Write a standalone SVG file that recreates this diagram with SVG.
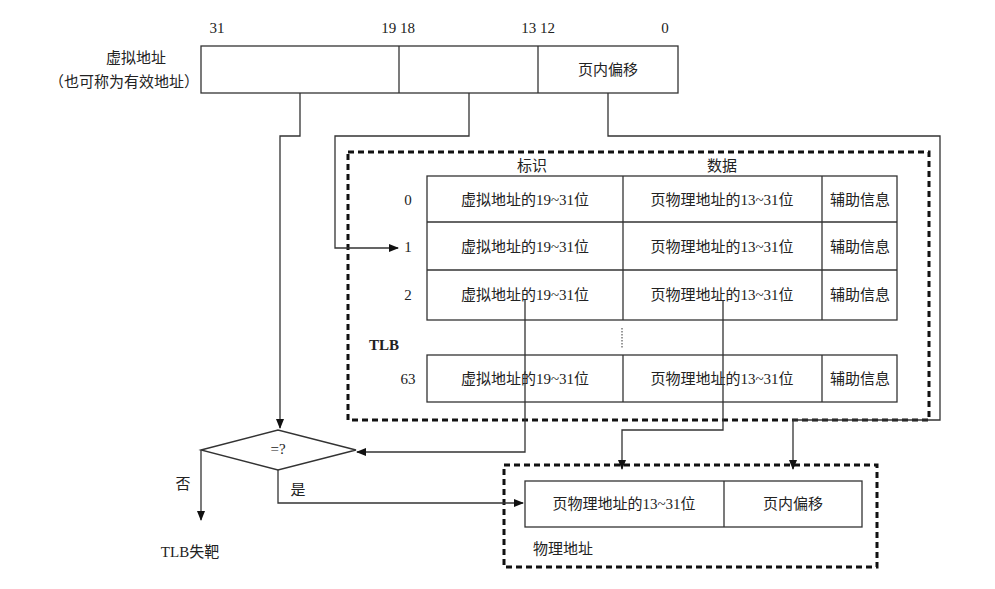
<svg xmlns="http://www.w3.org/2000/svg" width="995" height="589" viewBox="0 0 995 589">
<style>
text{font-family:"Liberation Serif","Noto Sans CJK SC",serif;font-size:15px;fill:#222;text-anchor:middle;dominant-baseline:central}
.b{fill:#fff;stroke:#333;stroke-width:1.3}
.d{fill:none;stroke:#111;stroke-width:3;stroke-dasharray:6,4}
.c{fill:none;stroke:#333;stroke-width:1.3}
</style>
<defs><marker id="a" markerWidth="10" markerHeight="8" refX="9" refY="4" orient="auto" markerUnits="userSpaceOnUse"><path d="M0,0L10,4L0,8z" fill="#111"/></marker></defs>
<rect width="995" height="589" fill="#fff"/>
<g id="va">
<text x="217" y="28">31</text><text x="398" y="28">19 18</text><text x="538" y="28">13 12</text><text x="665" y="28">0</text>
<text x="136" y="58">虚拟地址</text><text x="124" y="82">（也可称为有效地址）</text>
<rect class="b" x="201" y="46" width="477" height="47"/>
<line class="c" x1="399" y1="46" x2="399" y2="93"/><line class="c" x1="538" y1="46" x2="538" y2="93"/>
<text x="608" y="70">页内偏移</text>
</g>
<g id="tlb">
<rect class="d" x="348" y="152" width="581" height="268"/>
<text x="532" y="166">标识</text><text x="722" y="166">数据</text>
<text x="384" y="345" font-weight="bold">TLB</text>
<rect class="b" x="427" y="176" width="470" height="144"/>
<line class="c" x1="427" y1="222" x2="897" y2="222"/><line class="c" x1="427" y1="270" x2="897" y2="270"/>
<line class="c" x1="623" y1="176" x2="623" y2="320"/><line class="c" x1="822" y1="176" x2="822" y2="320"/>
<rect class="b" x="427" y="355" width="470" height="47"/>
<line class="c" x1="623" y1="355" x2="623" y2="402"/><line class="c" x1="822" y1="355" x2="822" y2="402"/>
<line x1="622" y1="328" x2="622" y2="348" stroke="#333" stroke-dasharray="1.5,1.5"/>
<text x="408" y="200">0</text><text x="408" y="247">1</text><text x="408" y="295">2</text><text x="408" y="379">63</text>
<text x="525" y="200">虚拟地址的19~31位</text><text x="722" y="200">页物理地址的13~31位</text><text x="860" y="200">辅助信息</text>
<text x="525" y="247">虚拟地址的19~31位</text><text x="722" y="247">页物理地址的13~31位</text><text x="860" y="247">辅助信息</text>
<text x="525" y="295">虚拟地址的19~31位</text><text x="722" y="295">页物理地址的13~31位</text><text x="860" y="295">辅助信息</text>
<text x="525" y="379">虚拟地址的19~31位</text><text x="722" y="379">页物理地址的13~31位</text><text x="860" y="379">辅助信息</text>
</g>
<g id="cmp">
<path class="b" d="M201,450L278,430L356,450L278,470z"/>
<text x="278" y="449">=?</text>
</g>
<g id="pa">
<rect class="d" x="504" y="465" width="373" height="102"/>
<rect class="b" x="525" y="481" width="337" height="46"/>
<line class="c" x1="724" y1="481" x2="724" y2="527"/>
<text x="624" y="504">页物理地址的13~31位</text><text x="793" y="504">页内偏移</text>
<text x="563" y="549">物理地址</text>
</g>
<g id="miss"><text x="190" y="552">TLB失靶</text></g>
<g id="connectors">
<path class="c" d="M300,93V136H280V428" marker-end="url(#a)"/>
<path class="c" d="M469,93V136H335V248H398" marker-end="url(#a)"/>
<path class="c" d="M608,93V136H940V420H793V469" marker-end="url(#a)"/>
<path class="c" d="M525,300V452H357" marker-end="url(#a)"/>
<path class="c" d="M723,300V430H622V469" marker-end="url(#a)"/>
<path class="c" d="M201,450V520" marker-end="url(#a)"/>
<path class="c" d="M278,470V503H523" marker-end="url(#a)"/>
<text x="183" y="484">否</text><text x="298" y="490">是</text>
</g>
</svg>
